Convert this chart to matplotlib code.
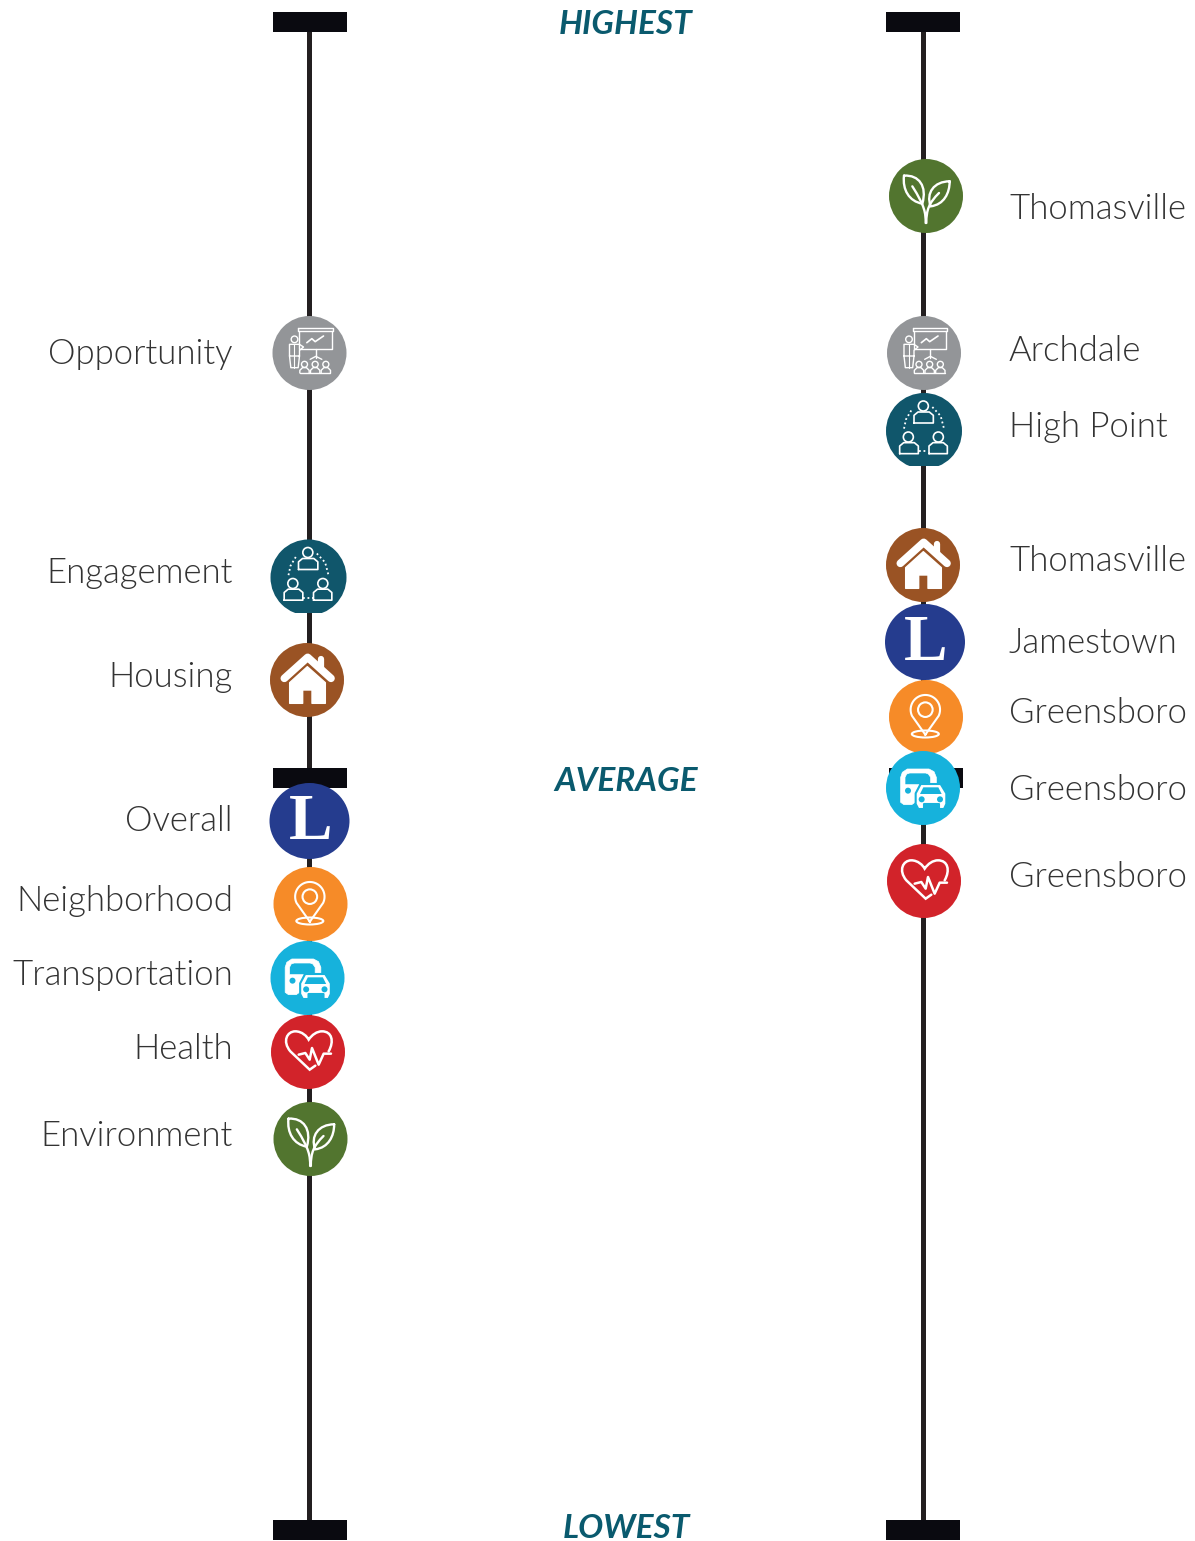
import matplotlib
matplotlib.use("Agg")
import matplotlib.pyplot as plt
import numpy as np
from matplotlib import font_manager
from matplotlib.patches import Circle, Ellipse, PathPatch, Polygon, Rectangle
from matplotlib.path import Path

# positions along the scale (0 = top of image)
scale_marks = ["HIGHEST", "AVERAGE", "LOWEST"]
scale_values = [22, 778, 1530]

left_names = ["Opportunity", "Engagement", "Housing", "Overall", "Neighborhood",
              "Transportation", "Health", "Environment"]
left_icons = ["opportunity", "engagement", "housing", "overall", "neighborhood",
              "transportation", "health", "environment"]
left_values = [353, 577.5, 680, 821, 904, 978, 1052, 1139]

right_names = ["Thomasville", "Archdale", "High Point", "Thomasville", "Jamestown",
               "Greensboro", "Greensboro", "Greensboro"]
right_icons = ["environment", "opportunity", "engagement", "housing", "overall",
               "neighborhood", "transportation", "health"]
right_values = [196, 353, 431, 565, 642, 717, 788, 881]

colors = {
    "opportunity": "#939598",
    "engagement": "#10566B",
    "housing": "#9A5324",
    "overall": "#253C8E",
    "neighborhood": "#F68B28",
    "transportation": "#16B2DC",
    "health": "#D2232A",
    "environment": "#52752F",
}

# small per-circle nudges and label placement
left_dx = [0, -1, -2.5, 0, 1, -2, -1.5, 1]
right_dx = [3, 1, 1, 0, 2, 3, 0, 1]
left_label_dy = [1, -5, -3, 0, -3, -3, -3, -3]
right_label_dy = [13, -2, -4, -4, 1, -4, 2, -4]
title_dy = [2, 3, -2]

LINE = "#231F20"
BAR = "#0A0A10"
TEAL = "#0A5A6E"
TEXT = "#333333"
ICON_LW = 1.5

light = next((f.fname for f in font_manager.fontManager.ttflist if "Lato-Light." in f.fname), None)
label_font = font_manager.FontProperties(fname=light, size=25) if light else \
    font_manager.FontProperties(family="Lato", size=25)


def to_px(pts, cx, cy, ox, oy):
    return [(cx + (x - ox) / 3, cy + (y - oy) / 3) for x, y in pts]


def stroke(ax, pts, lw=ICON_LW, **kw):
    xs, ys = zip(*pts)
    ax.plot(xs, ys, color="white", lw=lw, zorder=6, solid_capstyle="round",
            solid_joinstyle="round", **kw)


def curve(ax, cx, cy, ox, oy, verts, codes, lw=ICON_LW):
    p = Path(to_px(verts, cx, cy, ox, oy), codes)
    ax.add_patch(PathPatch(p, fc="none", ec="white", lw=lw, zorder=6, capstyle="round"))


def ring(ax, x, y, r, lw=ICON_LW):
    ax.add_patch(Circle((x, y), r, fc="none", ec="white", lw=lw, zorder=6))


def draw_opportunity(ax, cx, cy):
    f = lambda pts: to_px(pts, cx, cy, 0, 0)
    stroke(ax, f([(-30, -66), (-30, -11), (67, -11), (67, -66)]), lw=1)
    stroke(ax, f([(-33, -76), (70, -76), (70, -66), (-33, -66), (-33, -76)]), lw=1)
    stroke(ax, f([(-8, -31), (7, -43), (17, -34), (42, -51)]), lw=1.2)
    stroke(ax, f([(19, -11), (19, 14)]), lw=1)
    stroke(ax, f([(2, 19), (19, 10), (37, 19)]), lw=1)
    hx, hy = f([(-45, -41)])[0]
    ring(ax, hx, hy, 3.3, lw=1)
    stroke(ax, f([(-60, 9), (-60, -26), (-30, -26), (-18, -18), (-30, -8), (-30, 9),
                  (-34, 44), (-56, 44), (-60, 9), (-30, 9)]), lw=1)
    stroke(ax, f([(-45, -26), (-45, 44)]), lw=0.8)
    for x in (-15, 17, 49):
        hx, hy = f([(x, 34)])[0]
        ring(ax, hx, hy, 3, lw=1)
        stroke(ax, f([(x - 14, 60), (x - 14, 52), (x - 6, 44), (x + 6, 44), (x + 14, 52), (x + 14, 60)]), lw=1)
    stroke(ax, f([(-29, 60), (63, 60)]), lw=1)


def person(ax, cx, cy, hx, hy, x0, x1, y0, y1):
    f = lambda pts: to_px(pts, cx, cy, 0, 0)
    px, py = f([(hx, hy)])[0]
    ring(ax, px, py, 5, lw=1.2)
    stroke(ax, f([(x0, y1), (x0, y0 + 10), (x0 + 12, y0), (x1 - 12, y0), (x1, y0 + 10), (x1, y1), (x0, y1)]), lw=1.2)


def draw_engagement(ax, cx, cy):
    f = lambda pts: to_px(pts, cx, cy, 0, 0)
    person(ax, cx, cy, -2, -75, -30, 28, -57, -24)
    person(ax, cx, cy, -47, 18, -73, -17, 35, 68)
    person(ax, cx, cy, 43, 18, 15, 70, 35, 68)
    for seg in ([(-60, -7), (-54, -35), (-35, -67)], [(25, -72), (50, -45), (60, -7)], [(-15, 61), (13, 61)]):
        xs, ys = zip(*f(seg))
        ax.plot(xs, ys, color="white", lw=1.3, ls=(0, (1, 1.5)), zorder=6)


def draw_housing(ax, cx, cy):
    f = lambda pts: to_px(pts, cx, cy, 0, 0)
    stroke(ax, f([(-68, -5), (2, -68), (72, -5)]), lw=5.5)
    stroke(ax, f([(42, -62), (42, -35)]), lw=4.5)
    body = [(1, -40), (55, 8), (55, 70), (15, 70), (15, 30), (-13, 30), (-13, 70), (-52, 70), (-52, 8)]
    ax.add_patch(Polygon(f(body), closed=True, fc="white", ec="white", lw=1, joinstyle="round", zorder=6))


def draw_overall(ax, cx, cy):
    ax.text(cx + 1, cy + 2, "L", color="white", fontsize=47, fontweight="bold",
            family=["Liberation Serif", "DejaVu Serif"], ha="center", va="center", zorder=6)


def draw_neighborhood(ax, cx, cy):
    f = lambda pts: to_px(pts, cx, cy, 0, 0)
    hx, hy = f([(-2, -22)])[0]
    tipx, tipy = f([(-2, 53)])[0]
    r = 14.7
    t = np.radians(np.linspace(205, -25, 40))
    xs = np.r_[tipx, hx + r * np.cos(t), tipx]
    ys = np.r_[tipy, hy - r * np.sin(t), tipy]
    ax.plot(xs, ys, color="white", lw=ICON_LW, zorder=6, solid_joinstyle="round")
    ring(ax, hx, hy, 7.3)
    ex, ey = f([(-2, 51)])[0]
    ax.add_patch(Ellipse((ex, ey), 27, 7, fc="none", ec="white", lw=ICON_LW, zorder=6))


def draw_transportation(ax, cx, cy):
    f = lambda pts: to_px(pts, cx, cy, 142, 112)
    c = colors["transportation"]
    bus = [(75, 155), (75, 80), (80, 65), (95, 55), (160, 55), (175, 63), (182, 80), (182, 105), (165, 105),
           (165, 80), (158, 70), (150, 67), (102, 67), (93, 70), (88, 80), (88, 102), (130, 102), (118, 130),
           (118, 155), (108, 162), (85, 162)]
    ax.add_patch(Polygon(f(bus), closed=True, fc="white", ec="white", lw=0.5, joinstyle="round", zorder=6))
    px, py = f([(97, 120)])[0]
    ax.add_patch(Circle((px, py), 3, fc=c, ec="none", zorder=7))
    car = [(120, 128), (135, 100), (195, 100), (212, 128), (212, 160), (205, 175), (190, 175), (190, 160),
           (145, 160), (145, 175), (128, 175), (120, 160)]
    ax.add_patch(Polygon(f(car), closed=True, fc="white", ec=c, lw=1.5, joinstyle="round", zorder=7))
    ax.add_patch(Polygon(f([(133, 130), (143, 110), (188, 110), (198, 130)]), closed=True, fc=c, ec="none", zorder=8))
    for x in (138, 193):
        px, py = f([(x, 146)])[0]
        ax.add_patch(Circle((px, py), 3, fc=c, ec="none", zorder=8))


def draw_health(ax, cx, cy):
    verts = [(165, 378), (148, 390), (90, 335),
             (65, 305), (80, 275), (105, 275),
             (125, 275), (140, 290), (145, 300),
             (155, 285), (170, 275), (185, 275),
             (215, 275), (222, 305), (205, 335)]
    codes = [Path.MOVETO, Path.LINETO, Path.LINETO] + [Path.CURVE4] * 12
    curve(ax, cx, cy, 143, 337, verts, codes, lw=1.8)
    stroke(ax, to_px([(115, 345), (135, 340), (148, 360), (155, 325), (175, 375), (190, 342), (212, 342)],
                     cx, cy, 143, 337), lw=1.8)


def draw_environment(ax, cx, cy):
    ox, oy = 151, 599
    M, C = Path.MOVETO, Path.CURVE4
    left = [(85, 538), (130, 535), (155, 570), (140, 622), (100, 615), (80, 580), (85, 538)]
    right = [(222, 555), (175, 555), (150, 590), (165, 630), (205, 625), (222, 590), (222, 555)]
    curve(ax, cx, cy, ox, oy, left, [M] + [C] * 6, lw=1.7)
    curve(ax, cx, cy, ox, oy, right, [M] + [C] * 6, lw=1.7)
    stem = [(150, 680), (150, 650), (148, 630), (110, 570)]
    curve(ax, cx, cy, ox, oy, stem, [M, C, C, C], lw=1.7)
    stem2 = [(152, 680), (152, 640), (160, 620), (190, 590)]
    curve(ax, cx, cy, ox, oy, stem2, [M, C, C, C], lw=1.7)


ICON_DRAW = {
    "opportunity": draw_opportunity,
    "engagement": draw_engagement,
    "housing": draw_housing,
    "overall": draw_overall,
    "neighborhood": draw_neighborhood,
    "transportation": draw_transportation,
    "health": draw_health,
    "environment": draw_environment,
}


def draw_scale(ax, x, bar_shift=0, mid_shift=0):
    ax.plot([x, x], [scale_values[0], scale_values[-1]], color=LINE, lw=3.6, zorder=1, solid_capstyle="butt")
    for i, v in enumerate(scale_values):
        shift = bar_shift + (mid_shift if i == 1 else 0)
        ax.add_patch(Rectangle((x - 37 + shift, v - 10), 74, 20, fc=BAR, ec="none", zorder=2))


def draw_markers(ax, base_x, icons, values, dxs):
    for icon, v, dx in zip(icons, values, dxs):
        cx = base_x + dx
        if icon == "overall":
            badge = Ellipse((cx, v), 80, 76, fc=colors[icon], ec="none", zorder=4)
        else:
            r = 38 if icon == "engagement" else 37
            badge = Circle((cx, v), r, fc=colors[icon], ec="none", zorder=4)
        ax.add_patch(badge)
        if icon == "engagement":
            # bottom of this badge is cut flat in the source
            badge.set_clip_path(Rectangle((cx - 50, v - 50), 100, 50 + 35, transform=ax.transData))
        ICON_DRAW[icon](ax, cx, v)


def main():
    plt.rcParams["font.family"] = ["Lato", "DejaVu Sans"]
    fig = plt.figure(figsize=(11.95, 15.41), dpi=100)
    ax = fig.add_axes([0, 0, 1, 1])
    ax.set_xlim(0, 1195)
    ax.set_ylim(1541, 0)
    ax.axis("off")

    draw_scale(ax, 309.5, bar_shift=0.5)
    draw_scale(ax, 923, mid_shift=3)

    draw_markers(ax, 309.5, left_icons, left_values, left_dx)
    draw_markers(ax, 923, right_icons, right_values, right_dx)

    for name, v, dy in zip(left_names, left_values, left_label_dy):
        ax.text(233, v + dy, name, ha="right", va="center", color=TEXT, fontproperties=label_font)
    for name, v, dy in zip(right_names, right_values, right_label_dy):
        ax.text(1009, v + dy, name, ha="left", va="center", color=TEXT, fontproperties=label_font)

    for name, v, dy in zip(scale_marks, scale_values, title_dy):
        ax.text(626, v + dy, name, ha="center", va="center", fontsize=24, color=TEAL,
                fontweight="bold", fontstyle="italic")

    fig.savefig("out.png", dpi=100)


if __name__ == "__main__":
    main()
